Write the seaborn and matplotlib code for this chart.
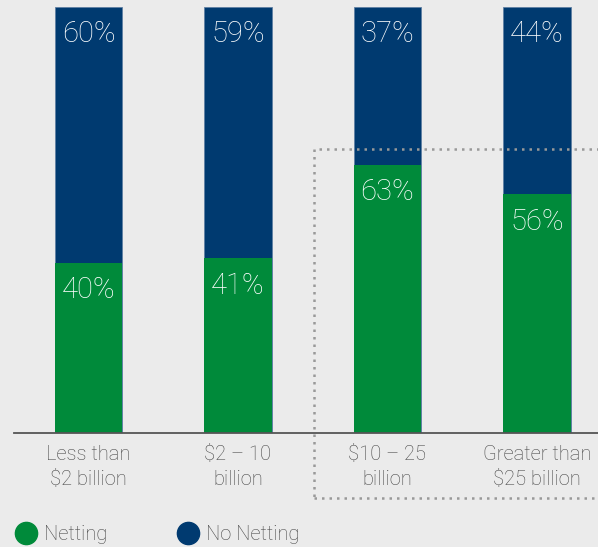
import numpy as np
import pandas as pd
import seaborn as sns
import matplotlib.pyplot as plt
from matplotlib.lines import Line2D
from matplotlib.patches import Rectangle

categories = ["Less than\n$2 billion", "$2 \u2013 10\nbillion", "$10 \u2013 25\nbillion", "Greater than\n$25 billion"]
netting = [40, 41, 63, 56]
no_netting = [60, 59, 37, 44]

green = "#008a3a"
navy = "#003a70"
bg = "#ebebeb"
grey_text = "#454545"

sns.set_theme(style="white")
plt.rcParams['font.family'] = ['Roboto', 'DejaVu Sans']
plt.rcParams['font.weight'] = 'light'

df = pd.DataFrame({"cat": categories, "netting": netting, "no_netting": no_netting})
df["total"] = df["netting"] + df["no_netting"]

fig = plt.figure(figsize=(5.98, 5.47), dpi=100, facecolor=bg)
ax = fig.add_axes([14 / 598, 114 / 547, 584 / 598, 426 / 547])
ax.set_facecolor(bg)

sns.barplot(data=df, x="cat", y="total", color=navy, width=0.45, saturation=1, ax=ax,
            edgecolor="#5f7fa3", linewidth=0.6)
sns.barplot(data=df, x="cat", y="netting", color=green, width=0.45, saturation=1, ax=ax,
            linewidth=0)

for i, row in df.iterrows():
    ax.text(i, row["total"] - 6.4, f"{row['no_netting']}%", ha="center", va="center",
            color="white", fontsize=21, fontweight="light")
    ax.text(i, row["netting"] - 6.4, f"{row['netting']}%", ha="center", va="center",
            color="white", fontsize=21, fontweight="light")

ax.set_xlim(-0.498, 3.408)
ax.set_ylim(0, 100)
ax.set_xlabel("")
ax.set_ylabel("")
ax.set_yticks([])
for s in ["top", "right", "left"]:
    ax.spines[s].set_visible(False)
ax.spines["bottom"].set_color("#555555")
ax.spines["bottom"].set_linewidth(1.3)
ax.tick_params(axis="x", length=0, pad=9, labelsize=14.5, labelcolor=grey_text)
for lbl in ax.get_xticklabels():
    lbl.set_linespacing(1.35)
    lbl.set_fontweight("light")

# dotted highlight box around the larger companies
box = Rectangle((1.508, -15.3), 3.0, 82.0, fill=False, edgecolor="#999999",
                linestyle=(0, (1, 2)), linewidth=1.8, clip_on=False)
ax.add_patch(box)

handles = [Line2D([], [], marker="o", linestyle="", markersize=16, color=green, label="Netting"),
           Line2D([], [], marker="o", linestyle="", markersize=16, color=navy, label="No Netting")]
leg = fig.legend(handles=handles, loc="center left", bbox_to_anchor=(6 / 598, 12 / 547), ncol=2,
                 frameon=False, fontsize=14.5, handletextpad=0.3, columnspacing=3.4,
                 labelcolor=grey_text, borderaxespad=0, handlelength=1.2)

fig.savefig("out.png", dpi=100, facecolor=bg)
